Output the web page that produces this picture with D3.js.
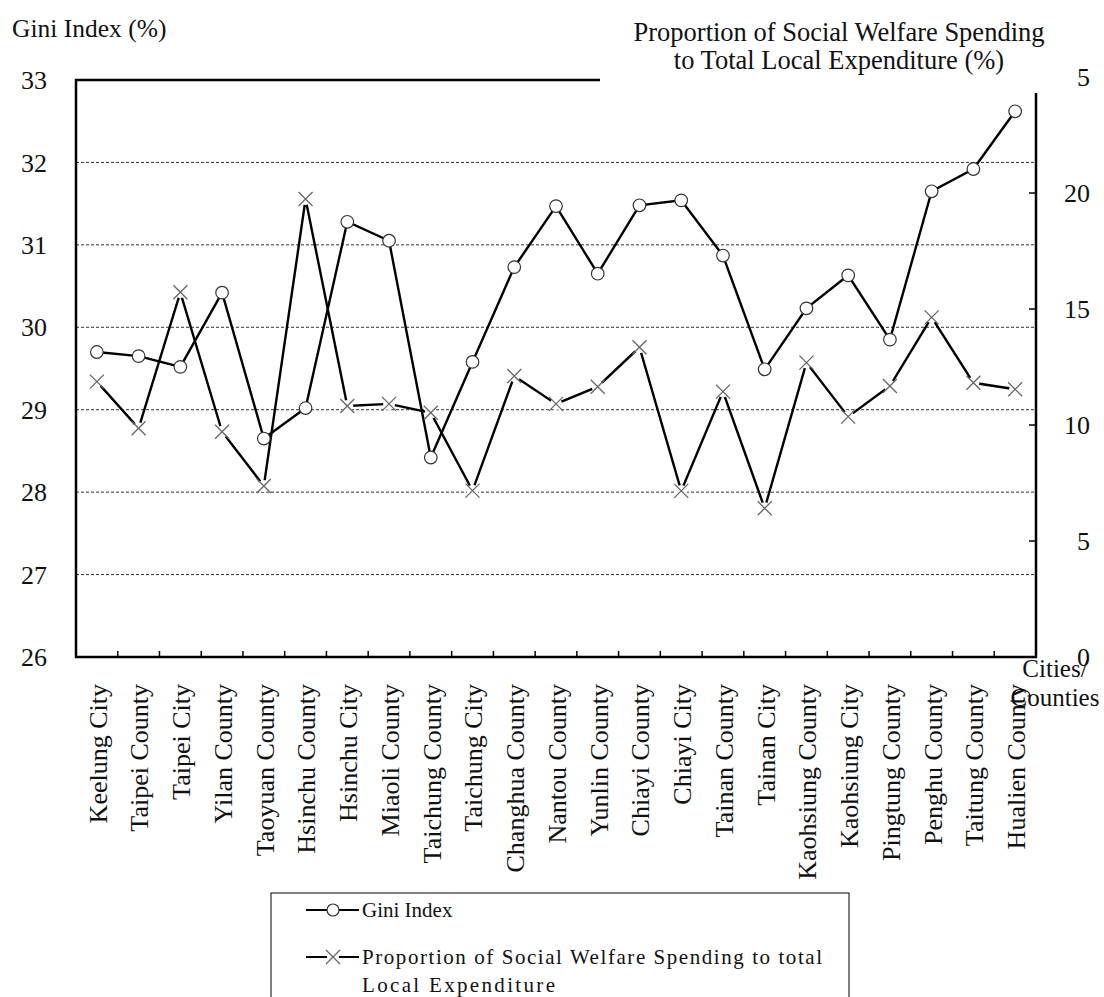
<!DOCTYPE html>
<html>
<head>
<meta charset="utf-8">
<script src="https://cdn.jsdelivr.net/npm/d3@7"></script>
<style>
  body { margin: 0; background: #fff; }
  svg { display: block; }
  text { font-family: "Liberation Serif", "DejaVu Serif", serif; fill: #111; }
</style>
</head>
<body>
<svg id="chart" width="1104" height="997"></svg>
<script>
const categories = ["Keelung City","Taipei County","Taipei City","Yilan County","Taoyuan County","Hsinchu County","Hsinchu City","Miaoli County","Taichung County","Taichung City","Changhua County","Nantou County","Yunlin County","Chiayi County","Chiayi City","Tainan County","Tainan City","Kaohsiung County","Kaohsiung City","Pingtung County","Penghu County","Taitung County","Hualien County"];
const giniIndex = [29.70, 29.65, 29.52, 30.42, 28.65, 29.02, 31.28, 31.05, 28.42, 29.58, 30.73, 31.47, 30.65, 31.48, 31.54, 30.87, 29.49, 30.23, 30.63, 29.85, 31.65, 31.92, 32.62];
const welfareShare = [11.87, 9.86, 15.72, 9.71, 7.37, 19.74, 10.82, 10.91, 10.53, 7.17, 12.11, 10.91, 11.65, 13.35, 7.16, 11.44, 6.41, 12.69, 10.36, 11.68, 14.64, 11.82, 11.54];
const leftTicks = [26, 27, 28, 29, 30, 31, 32, 33];
const rightTicks = [0, 5, 10, 15, 20, 25];
const rightTickLabels = ["0", "5", "10", "15", "20", "5"];
const leftTitle = "Gini Index (%)";
const rightTitle = ["Proportion of Social Welfare Spending", "to Total Local Expenditure (%)"];
const xTitle = ["Cities/", "Counties"];
const legendLabels = ["Gini Index", "Proportion of Social Welfare Spending to total", "Local Expenditure"];

const svg = d3.select("#chart");
const L = 76, R = 1036, T = 80, B = 657;

const x = d3.scaleBand().domain(categories).range([L, R]);
const cx = d => x(d) + x.bandwidth() / 2;
const yL = d3.scaleLinear().domain([26, 33]).range([B, T]);
const yR = d3.scaleLinear().domain([0, 25]).range([B, 77]);

// gridlines
svg.append("g").selectAll("line").data(leftTicks.filter(v => v > 26 && v < 33)).join("line")
  .attr("x1", L).attr("x2", R).attr("y1", d => yL(d)).attr("y2", d => yL(d))
  .attr("stroke", "#333").attr("stroke-width", 1).attr("stroke-dasharray", "3,2");

// axes frame
const axisG = svg.append("g").attr("stroke", "#000").attr("stroke-width", 2.5).attr("fill", "none");
axisG.append("line").attr("x1", L).attr("x2", L).attr("y1", T - 1).attr("y2", B + 1);
axisG.append("line").attr("x1", L - 1).attr("x2", 600).attr("y1", T).attr("y2", T);
axisG.append("line").attr("x1", L - 1).attr("x2", R + 1).attr("y1", B).attr("y2", B);
axisG.append("line").attr("x1", R).attr("x2", R).attr("y1", 93).attr("y2", B + 1);

// x ticks at band boundaries
svg.append("g").selectAll("line").data(categories.slice(1)).join("line")
  .attr("x1", d => x(d)).attr("x2", d => x(d)).attr("y1", B).attr("y2", B - 6)
  .attr("stroke", "#000").attr("stroke-width", 1.5);

// right ticks
svg.append("g").selectAll("line").data(rightTicks.filter(v => v > 0 && v < 25)).join("line")
  .attr("x1", R).attr("x2", R - 7).attr("y1", d => yR(d)).attr("y2", d => yR(d))
  .attr("stroke", "#000").attr("stroke-width", 1.5);

// left tick labels
svg.append("g").selectAll("text").data(leftTicks).join("text")
  .attr("x", 47).attr("y", d => yL(d)).attr("dy", "0.35em").attr("text-anchor", "end")
  .attr("font-size", 26).text(d => d);

// right tick labels
svg.append("g").selectAll("text").data(rightTicks).join("text")
  .attr("x", 1090).attr("y", d => yR(d)).attr("dy", "0.35em").attr("text-anchor", "end")
  .attr("font-size", 26).text((d, i) => rightTickLabels[i]);

// titles
svg.append("text").attr("x", 12).attr("y", 37).attr("font-size", 25.5).text(leftTitle);
svg.append("g").selectAll("text").data(rightTitle).join("text")
  .attr("x", 839).attr("y", (d, i) => 41 + i * 28).attr("text-anchor", "middle")
  .attr("font-size", 26.5).text(d => d);
svg.append("g").selectAll("text").data(xTitle).join("text")
  .attr("x", 1055).attr("y", (d, i) => 677 + i * 29).attr("text-anchor", "middle")
  .attr("font-size", 25).text(d => d);

// x labels
svg.append("g").selectAll("text").data(categories).join("text")
  .attr("transform", d => `translate(${cx(d)},684) rotate(-90)`)
  .attr("dy", "0.38em").attr("text-anchor", "end").attr("font-size", 26).text(d => d);

// lines
const lineW = d3.line().x((d, i) => cx(categories[i])).y(d => yR(d));
const lineG = d3.line().x((d, i) => cx(categories[i])).y(d => yL(d));
svg.append("path").datum(welfareShare).attr("d", lineW)
  .attr("fill", "none").attr("stroke", "#000").attr("stroke-width", 2.4);
svg.append("path").datum(giniIndex).attr("d", lineG)
  .attr("fill", "none").attr("stroke", "#000").attr("stroke-width", 2.4);

// X markers
const xm = svg.append("g").selectAll("g").data(welfareShare).join("g")
  .attr("transform", (d, i) => `translate(${cx(categories[i])},${yR(d)})`);
xm.append("circle").attr("r", 6).attr("fill", "#fff");
xm.append("path").attr("d", "M-7,-7L7,7M-7,7L7,-7").attr("stroke", "#666").attr("stroke-width", 1.3);

// circle markers
svg.append("g").selectAll("circle").data(giniIndex).join("circle")
  .attr("cx", (d, i) => cx(categories[i])).attr("cy", d => yL(d)).attr("r", 6.3)
  .attr("fill", "#fff").attr("stroke", "#333").attr("stroke-width", 1.2);

// legend
const lg = svg.append("g");
lg.append("rect").attr("x", 271).attr("y", 893).attr("width", 578).attr("height", 120)
  .attr("fill", "#fff").attr("stroke", "#000").attr("stroke-width", 1);
lg.append("line").attr("x1", 306).attr("x2", 359).attr("y1", 910).attr("y2", 910)
  .attr("stroke", "#000").attr("stroke-width", 2);
lg.append("circle").attr("cx", 333).attr("cy", 910).attr("r", 6)
  .attr("fill", "#fff").attr("stroke", "#333").attr("stroke-width", 1.2);
lg.append("line").attr("x1", 306).attr("x2", 359).attr("y1", 957).attr("y2", 957)
  .attr("stroke", "#000").attr("stroke-width", 2);
lg.append("circle").attr("cx", 333).attr("cy", 957).attr("r", 6).attr("fill", "#fff");
lg.append("path").attr("d", "M326,950L340,964M326,964L340,950").attr("stroke", "#666").attr("stroke-width", 1.3);
lg.append("text").attr("x", 362).attr("y", 917).attr("font-size", 21).text(legendLabels[0]);
lg.append("text").attr("x", 362).attr("y", 964).attr("font-size", 21)
  .attr("textLength", 460).attr("lengthAdjust", "spacing").text(legendLabels[1]);
lg.append("text").attr("x", 362).attr("y", 992).attr("font-size", 21)
  .attr("textLength", 193).attr("lengthAdjust", "spacing").text(legendLabels[2]);
</script>
</body>
</html>
